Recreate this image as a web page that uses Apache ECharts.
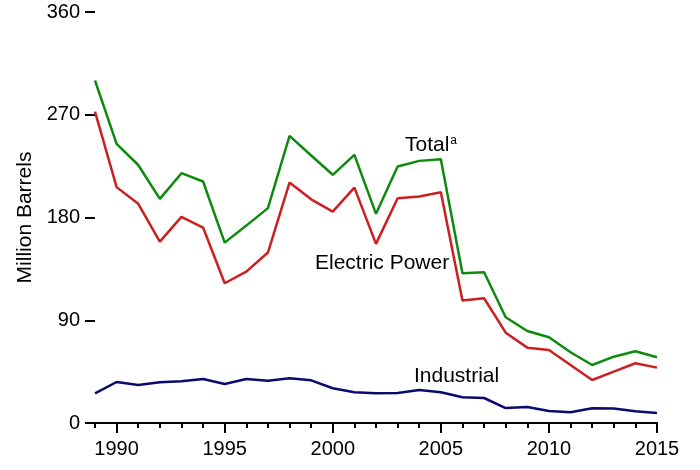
<!DOCTYPE html>
<html><head><meta charset="utf-8">
<script src="https://cdn.jsdelivr.net/npm/echarts@6/dist/echarts.min.js"></script>
<style>html,body{margin:0;padding:0;background:#fff}#c{width:700px;height:470px}</style>
</head><body><div id="c"></div>
<script>
const years = [1989,1990,1991,1992,1993,1994,1995,1996,1997,1998,1999,2000,2001,2002,2003,2004,2005,2006,2007,2008,2009,2010,2011,2012,2013,2014,2015];
const total = [300,244.5,226,196.3,218.8,211.5,158,172.9,188.2,251.5,234.3,217.4,234.9,183.2,224.7,229.6,231.1,131.2,132,92.6,80.6,75.1,62,50.8,58.1,62.8,57.6];
const electric = [272.8,206.6,192,158.9,180.5,171.2,122.4,132.6,149.3,210.6,195.9,185.2,206.2,156.9,196.9,198.4,202.2,107.2,109.3,79.1,66,64,50.8,37.7,45,52.3,48.5];
const industrial = [26,35.9,33.3,35.7,36.5,38.6,34.2,38.6,37.1,39.2,37.4,30.4,26.9,26,26.3,28.9,26.9,22.5,21.9,13.1,14,10.5,9.4,12.9,12.6,10.3,8.8];
const yTicks = [0,90,180,270,360];
const font = 'Liberation Sans, Arial, sans-serif';
const cats = years.map(String);
const chart = echarts.init(document.getElementById('c'));
chart.setOption({
  animation:false,
  backgroundColor:'#fff',
  grid:{left:95,right:43,top:12,bottom:47},
  xAxis:[{
    type:'category', data:cats, boundaryGap:false, position:'bottom',
    axisLine:{lineStyle:{color:'#000',width:2}},
    axisTick:{interval:0,length:5,lineStyle:{color:'#000',width:2}},
    axisLabel:{show:false}, splitLine:{show:false}
  },{
    type:'category', data:cats, boundaryGap:false, position:'bottom',
    axisLine:{show:false},
    axisTick:{interval:(i,v)=>(+v)%5===0,length:10,lineStyle:{color:'#000',width:2}},
    axisLabel:{interval:(i,v)=>(+v)%5===0,color:'#000',fontSize:20,fontFamily:font,margin:16}
  }],
  yAxis:{
    type:'value', min:yTicks[0], max:yTicks[yTicks.length-1], interval:90,
    axisLine:{show:false},
    axisTick:{show:true,length:10,lineStyle:{color:'#000',width:2}},
    axisLabel:{color:'#000',fontSize:20,fontFamily:font,margin:15},
    splitLine:{show:false},
    name:'Million Barrels', nameLocation:'middle', nameGap:59, nameRotate:90,
    nameTextStyle:{color:'#000',fontSize:21,fontFamily:font}
  },
  series:[
    {type:'line',name:'Total',data:total,symbol:'none',lineStyle:{color:'#0e8a0e',width:2.5},itemStyle:{color:'#0e8a0e'}},
    {type:'line',name:'Electric Power',data:electric,symbol:'none',lineStyle:{color:'#cc2020',width:2.5},itemStyle:{color:'#cc2020'}},
    {type:'line',name:'Industrial',data:industrial,symbol:'none',lineStyle:{color:'#0a0a6e',width:2.5},itemStyle:{color:'#0a0a6e'}}
  ],
  graphic:[
    {type:'text',left:405,top:135,style:{text:'{a|Total}{s|a}',rich:{a:{fontSize:21,fontFamily:font,fill:'#000'},s:{fontSize:12,fontFamily:font,fill:'#000',verticalAlign:'top',padding:[0,0,8,1]}}}},
    {type:'text',left:315,top:253,style:{text:'Electric Power',fontSize:21,fontFamily:font,fill:'#000'}},
    {type:'text',left:414,top:366,style:{text:'Industrial',fontSize:21,fontFamily:font,fill:'#000'}}
  ]
});
</script></body></html>
